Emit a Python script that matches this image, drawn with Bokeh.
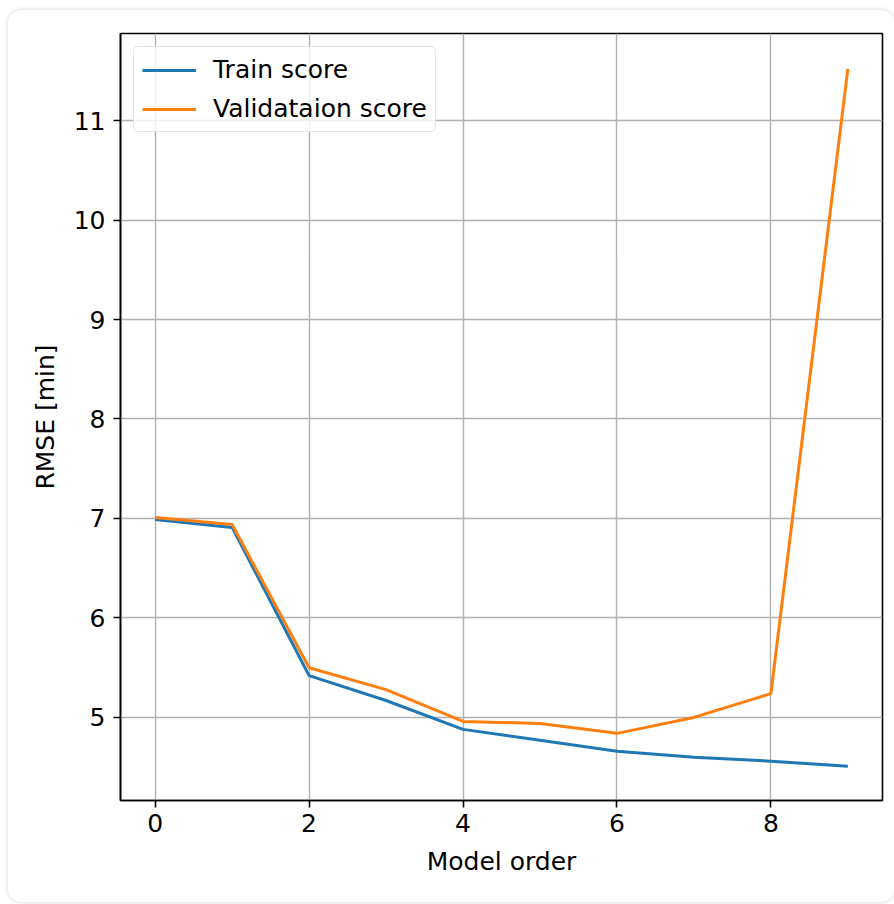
from bokeh.plotting import figure
from bokeh.models import FixedTicker, Range1d, Legend, LegendItem
from bokeh.embed import file_html
from bokeh.resources import INLINE

model_order = [0, 1, 2, 3, 4, 5, 6, 7, 8, 9]
train_score = [6.99, 6.91, 5.42, 5.17, 4.88, 4.77, 4.66, 4.60, 4.56, 4.51]
validation_score = [7.01, 6.94, 5.50, 5.28, 4.96, 4.94, 4.84, 5.00, 5.24, 11.52]
x_ticks = [0, 2, 4, 6, 8]
y_ticks = [5, 6, 7, 8, 9, 10, 11]

FONT = "DejaVu Sans"
FS = "25px"

p = figure(width=886, height=892, output_backend="svg", toolbar_location=None,
           x_range=Range1d(-0.45, 9.45), y_range=Range1d(4.165, 11.875),
           min_border_left=112, min_border_right=12, min_border_top=23, min_border_bottom=102)
p.styles = {"margin-left": "8px", "margin-top": "10px", "border-radius": "14px",
            "box-shadow": "0 0 5px rgba(0,0,0,0.18)", "overflow": "hidden"}

p.background_fill_color = "white"
p.border_fill_color = "white"
p.outline_line_color = "black"
p.outline_line_width = 1.6

for ax in (p.xaxis[0], p.yaxis[0]):
    ax.axis_line_color = "black"
    ax.axis_line_width = 1.6
    ax.major_tick_line_color = "black"
    ax.major_tick_line_width = 1.6
    ax.major_tick_out = 7
    ax.major_tick_in = 0
    ax.minor_tick_line_color = None
    ax.major_label_text_font = FONT
    ax.major_label_text_font_size = FS
    ax.major_label_text_color = "black"
    ax.axis_label_text_font = FONT
    ax.axis_label_text_font_size = FS
    ax.axis_label_text_font_style = "normal"
    ax.axis_label_text_color = "black"

p.xaxis.ticker = FixedTicker(ticks=x_ticks)
p.yaxis.ticker = FixedTicker(ticks=y_ticks)
p.xaxis.axis_label = "Model order"
p.yaxis.axis_label = "RMSE [min]"
p.xaxis.major_label_standoff = 6
p.yaxis.major_label_standoff = 8
p.xaxis.axis_label_standoff = 12
p.yaxis.axis_label_standoff = 11

p.grid.grid_line_color = "#b0b0b0"
p.grid.grid_line_width = 1.4

r1 = p.line(model_order, train_score, line_color="#1f77b4", line_width=3)
r2 = p.line(model_order, validation_score, line_color="#ff7f0e", line_width=3)

legend = Legend(items=[LegendItem(label="Train score", renderers=[r1]),
                       LegendItem(label="Validataion score", renderers=[r2])],
                location="top_left")
legend.label_text_font = FONT
legend.label_text_font_size = FS
legend.label_text_color = "black"
legend.glyph_width = 54
legend.glyph_height = 28
legend.label_standoff = 17
legend.spacing = 10
legend.padding = 8
legend.margin = 13
legend.border_line_color = "#cccccc"
legend.border_line_width = 1.4
legend.border_radius = 5
legend.background_fill_alpha = 0.8
p.add_layout(legend)

open("out.html", "w").write(file_html(p, INLINE))
